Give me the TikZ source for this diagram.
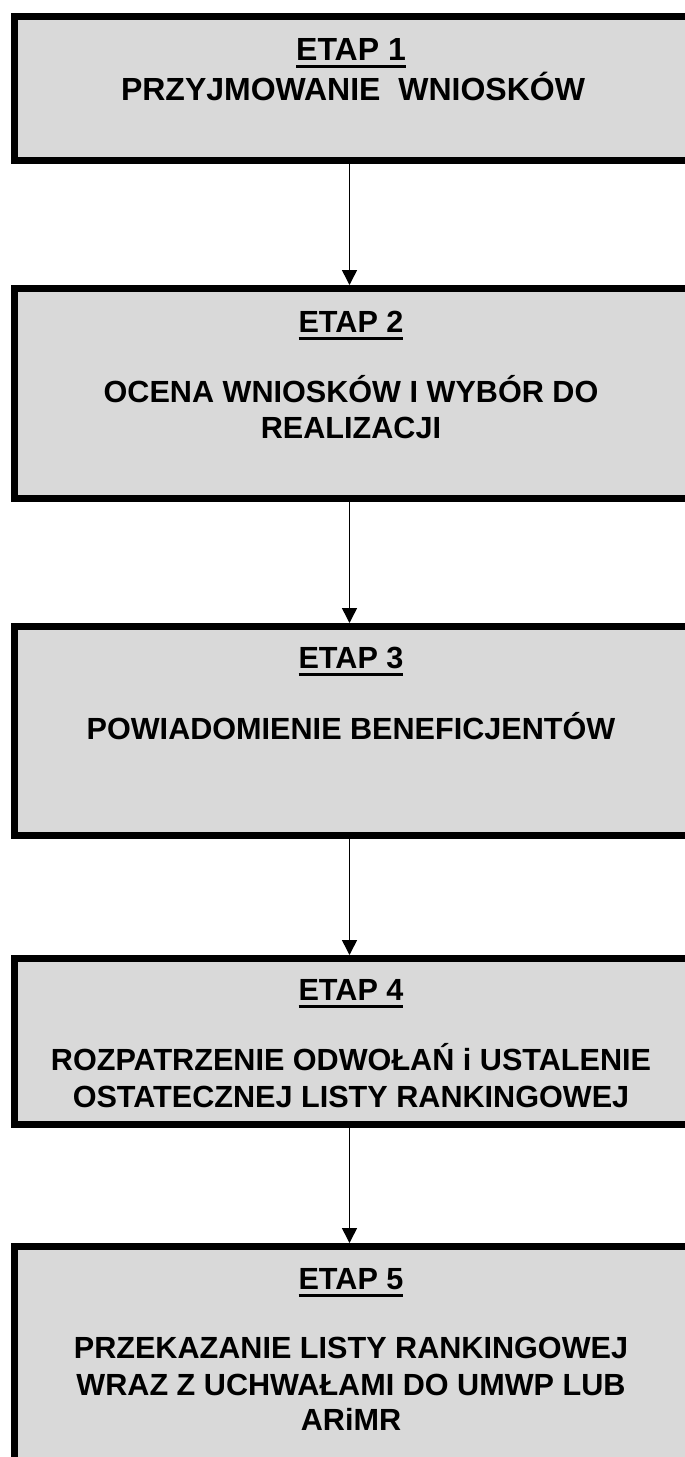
\documentclass[tikz,border=0pt]{standalone}
\usepackage{fontspec}
\setmainfont{Liberation Sans}
\usetikzlibrary{arrows.meta}
\definecolor{boxgray}{RGB}{217,217,217}
\newcommand\etapul[1]{\setbox0\hbox{#1}\rlap{\vrule height -2.5pt depth 4pt width \wd0}\box0}
\begin{document}
\begin{tikzpicture}[x=0.5pt,y=-0.5pt,
  stagebox/.style={draw=black, line width=3.5pt, fill=boxgray, rectangle,
    anchor=north west, inner sep=0pt, minimum width=360pt},
  txt/.style={anchor=base, inner sep=0pt, font=\fontsize{15.3pt}{18pt}\selectfont\bfseries},
  bigtxt/.style={txt, font=\fontsize{16pt}{19pt}\selectfont\bfseries},
  arr/.style={line width=0.75pt, -{Triangle[length=7.5pt,width=7.5pt]}}]
\useasboundingbox (0,0) rectangle (685,1457);
\clip (0,0) rectangle (685,1457);
% boxes
\node[stagebox, minimum height=72pt]   (b1) at (10.5,13) {};
\node[stagebox, minimum height=105pt]  (b2) at (10.5,285) {};
\node[stagebox, minimum height=104.5pt](b3) at (10.5,623) {};
\node[stagebox, minimum height=83pt]   (b4) at (10.5,955) {};
\node[stagebox, minimum height=150pt]  (b5) at (10.5,1243) {};
% texts
\node[bigtxt] (t1a) at (351,60)   {\etapul{ETAP 1}};
\node[bigtxt] (t1b) at (353,100)  {PRZYJMOWANIE\ \ WNIOSKÓW};
\node[txt] (t2a) at (351,332)  {\etapul{ETAP 2}};
\node[txt] (t2b) at (351,402)  {OCENA WNIOSKÓW I WYBÓR DO};
\node[txt] (t2c) at (351,438)  {REALIZACJI};
\node[txt] (t3a) at (351,668)  {\etapul{ETAP 3}};
\node[txt] (t3b) at (351,739)  {POWIADOMIENIE BENEFICJENTÓW};
\node[txt] (t4a) at (351,1000) {\etapul{ETAP 4}};
\node[txt] (t4b) at (351,1070) {ROZPATRZENIE ODWOŁAŃ i USTALENIE};
\node[txt] (t4c) at (351,1107) {OSTATECZNEJ LISTY RANKINGOWEJ};
\node[txt] (t5a) at (351,1289) {\etapul{ETAP 5}};
\node[txt] (t5b) at (351,1358) {PRZEKAZANIE LISTY RANKINGOWEJ};
\node[txt] (t5c) at (351,1395) {WRAZ Z UCHWAŁAMI DO UMWP LUB};
\node[txt] (t5d) at (351,1430) {ARiMR};
% arrows
\coordinate (ax) at (349.5,0);
\draw[arr] (b1.south -| ax) -- (b2.north -| ax);
\draw[arr] (b2.south -| ax) -- (b3.north -| ax);
\draw[arr] (b3.south -| ax) -- (b4.north -| ax);
\draw[arr] (b4.south -| ax) -- (b5.north -| ax);
\end{tikzpicture}
\end{document}
